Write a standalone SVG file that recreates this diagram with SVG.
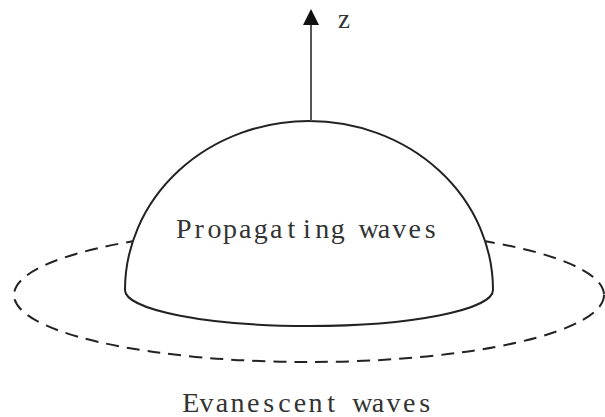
<svg xmlns="http://www.w3.org/2000/svg" width="605" height="417" viewBox="0 0 605 417">
<style>
.lbl{font-family:"Liberation Serif","DejaVu Serif",serif;fill:#333;text-anchor:middle;}
.dash{fill:none;stroke:#222;stroke-width:2;stroke-dasharray:13 8;}
.dome{fill:#fff;stroke:#222;stroke-width:2;}
.axis{stroke:#555;stroke-width:2;fill:none;}
</style>
<rect width="605" height="417" fill="#fff"/>
<g id="evanescent">
<ellipse class="dash" cx="309" cy="295" rx="295" ry="67"/>
<text class="lbl" y="412" font-size="28" x="190.8 206.4 222 237.6 253.2 268.8 284.4 300 315.6 331.2 346.8 362.4 378 393.6 409.2 424.8">Evanescent waves</text>
</g>
<g id="propagating">
<path class="dome" d="M125,290 A184,36 0 0 0 493,290 A184,169 0 0 0 125,290 Z"/>
<text class="lbl" y="238" font-size="28" x="183.7 199.1 214.5 229.9 245.3 260.7 276.1 291.5 306.9 322.3 337.7 353.1 368.5 383.9 399.3 414.7 430.1">Propagating waves</text>
</g>
<g id="connectors">
<line class="axis" x1="311" y1="121" x2="311" y2="24"/>
<path d="M303,25 L311,9 L319,25 Z" fill="#111"/>
</g>
<g id="z-label">
<text class="lbl" x="344" y="28" font-size="27">z</text>
</g>
</svg>
